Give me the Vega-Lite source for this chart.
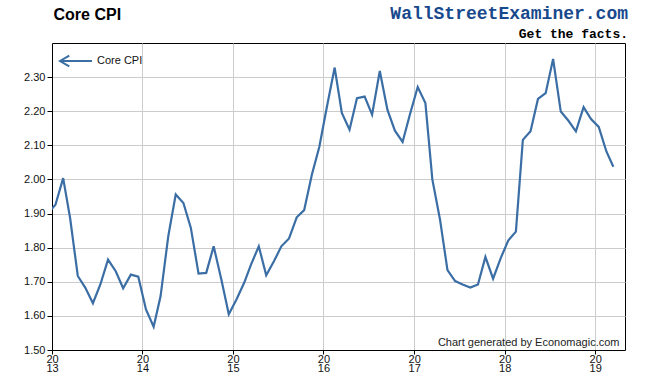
{
  "$schema": "https://vega.github.io/schema/vega-lite/v6.json",
  "width": 573,
  "height": 307,
  "autosize": {"type": "none"},
  "padding": {"left": 52, "top": 43, "right": 25, "bottom": 35},
  "background": "#ffffff",
  "title": {
    "text": "WallStreetExaminer.com",
    "subtitle": "Get the facts.",
    "anchor": "end",
    "orient": "top",
    "offset": -34.5,
    "dx": 3,
    "font": "Liberation Mono",
    "fontSize": 18,
    "fontWeight": "bold",
    "color": "#17498c",
    "subtitleFont": "Liberation Mono",
    "subtitleFontSize": 13,
    "subtitleFontWeight": "bold",
    "subtitleColor": "#000000",
    "subtitlePadding": 4.5
  },
  "data": {
    "values": [
      {"date": "2012-12-15", "value": 1.900, "series": "Core CPI"},
      {"date": "2013-01-15", "value": 1.926, "series": "Core CPI"},
      {"date": "2013-02-15", "value": 2.004, "series": "Core CPI"},
      {"date": "2013-03-15", "value": 1.887, "series": "Core CPI"},
      {"date": "2013-04-15", "value": 1.717, "series": "Core CPI"},
      {"date": "2013-05-15", "value": 1.683, "series": "Core CPI"},
      {"date": "2013-06-15", "value": 1.637, "series": "Core CPI"},
      {"date": "2013-07-15", "value": 1.692, "series": "Core CPI"},
      {"date": "2013-08-15", "value": 1.765, "series": "Core CPI"},
      {"date": "2013-09-15", "value": 1.731, "series": "Core CPI"},
      {"date": "2013-10-15", "value": 1.681, "series": "Core CPI"},
      {"date": "2013-11-15", "value": 1.721, "series": "Core CPI"},
      {"date": "2013-12-15", "value": 1.715, "series": "Core CPI"},
      {"date": "2014-01-15", "value": 1.619, "series": "Core CPI"},
      {"date": "2014-02-15", "value": 1.568, "series": "Core CPI"},
      {"date": "2014-03-15", "value": 1.658, "series": "Core CPI"},
      {"date": "2014-04-15", "value": 1.834, "series": "Core CPI"},
      {"date": "2014-05-15", "value": 1.956, "series": "Core CPI"},
      {"date": "2014-06-15", "value": 1.931, "series": "Core CPI"},
      {"date": "2014-07-15", "value": 1.858, "series": "Core CPI"},
      {"date": "2014-08-15", "value": 1.724, "series": "Core CPI"},
      {"date": "2014-09-15", "value": 1.726, "series": "Core CPI"},
      {"date": "2014-10-15", "value": 1.804, "series": "Core CPI"},
      {"date": "2014-11-15", "value": 1.707, "series": "Core CPI"},
      {"date": "2014-12-15", "value": 1.605, "series": "Core CPI"},
      {"date": "2015-01-15", "value": 1.648, "series": "Core CPI"},
      {"date": "2015-02-15", "value": 1.697, "series": "Core CPI"},
      {"date": "2015-03-15", "value": 1.751, "series": "Core CPI"},
      {"date": "2015-04-15", "value": 1.804, "series": "Core CPI"},
      {"date": "2015-05-15", "value": 1.719, "series": "Core CPI"},
      {"date": "2015-06-15", "value": 1.760, "series": "Core CPI"},
      {"date": "2015-07-15", "value": 1.804, "series": "Core CPI"},
      {"date": "2015-08-15", "value": 1.827, "series": "Core CPI"},
      {"date": "2015-09-15", "value": 1.889, "series": "Core CPI"},
      {"date": "2015-10-15", "value": 1.910, "series": "Core CPI"},
      {"date": "2015-11-15", "value": 2.014, "series": "Core CPI"},
      {"date": "2015-12-15", "value": 2.095, "series": "Core CPI"},
      {"date": "2016-01-15", "value": 2.214, "series": "Core CPI"},
      {"date": "2016-02-15", "value": 2.328, "series": "Core CPI"},
      {"date": "2016-03-15", "value": 2.195, "series": "Core CPI"},
      {"date": "2016-04-15", "value": 2.146, "series": "Core CPI"},
      {"date": "2016-05-15", "value": 2.238, "series": "Core CPI"},
      {"date": "2016-06-15", "value": 2.243, "series": "Core CPI"},
      {"date": "2016-07-15", "value": 2.190, "series": "Core CPI"},
      {"date": "2016-08-15", "value": 2.318, "series": "Core CPI"},
      {"date": "2016-09-15", "value": 2.204, "series": "Core CPI"},
      {"date": "2016-10-15", "value": 2.143, "series": "Core CPI"},
      {"date": "2016-11-15", "value": 2.110, "series": "Core CPI"},
      {"date": "2016-12-15", "value": 2.192, "series": "Core CPI"},
      {"date": "2017-01-15", "value": 2.271, "series": "Core CPI"},
      {"date": "2017-02-15", "value": 2.224, "series": "Core CPI"},
      {"date": "2017-03-15", "value": 2.000, "series": "Core CPI"},
      {"date": "2017-04-15", "value": 1.882, "series": "Core CPI"},
      {"date": "2017-05-15", "value": 1.734, "series": "Core CPI"},
      {"date": "2017-06-15", "value": 1.702, "series": "Core CPI"},
      {"date": "2017-07-15", "value": 1.692, "series": "Core CPI"},
      {"date": "2017-08-15", "value": 1.683, "series": "Core CPI"},
      {"date": "2017-09-15", "value": 1.692, "series": "Core CPI"},
      {"date": "2017-10-15", "value": 1.773, "series": "Core CPI"},
      {"date": "2017-11-15", "value": 1.709, "series": "Core CPI"},
      {"date": "2017-12-15", "value": 1.768, "series": "Core CPI"},
      {"date": "2018-01-15", "value": 1.821, "series": "Core CPI"},
      {"date": "2018-02-15", "value": 1.847, "series": "Core CPI"},
      {"date": "2018-03-15", "value": 2.116, "series": "Core CPI"},
      {"date": "2018-04-15", "value": 2.141, "series": "Core CPI"},
      {"date": "2018-05-15", "value": 2.236, "series": "Core CPI"},
      {"date": "2018-06-15", "value": 2.253, "series": "Core CPI"},
      {"date": "2018-07-15", "value": 2.353, "series": "Core CPI"},
      {"date": "2018-08-15", "value": 2.199, "series": "Core CPI"},
      {"date": "2018-09-15", "value": 2.172, "series": "Core CPI"},
      {"date": "2018-10-15", "value": 2.141, "series": "Core CPI"},
      {"date": "2018-11-15", "value": 2.212, "series": "Core CPI"},
      {"date": "2018-12-15", "value": 2.177, "series": "Core CPI"},
      {"date": "2019-01-15", "value": 2.154, "series": "Core CPI"},
      {"date": "2019-02-15", "value": 2.082, "series": "Core CPI"},
      {"date": "2019-03-15", "value": 2.037, "series": "Core CPI"}
    ]
  },
  "mark": {"type": "line", "clip": true, "strokeWidth": 2.2, "interpolate": "linear"},
  "encoding": {
    "x": {
      "field": "date",
      "type": "temporal",
      "scale": {
        "type": "utc",
        "domain": [
          {"year": 2013, "month": 1, "date": 1, "utc": true},
          {"year": 2019, "month": 5, "date": 1, "utc": true}
        ],
        "nice": false
      },
      "axis": {
        "title": "Chart generated by Economagic.com",
        "titleX": 567,
        "titleY": -5,
        "titleAlign": "right",
        "titleAnchor": null,
        "titleBaseline": "alphabetic",
        "titleFont": "Liberation Sans",
        "titleFontSize": 11,
        "titleFontWeight": "normal",
        "titleColor": "#222222",
        "values": [
          {"year": 2013, "month": 1, "date": 1, "utc": true},
          {"year": 2014, "month": 1, "date": 1, "utc": true},
          {"year": 2015, "month": 1, "date": 1, "utc": true},
          {"year": 2016, "month": 1, "date": 1, "utc": true},
          {"year": 2017, "month": 1, "date": 1, "utc": true},
          {"year": 2018, "month": 1, "date": 1, "utc": true},
          {"year": 2019, "month": 1, "date": 1, "utc": true}
        ],
        "labelExpr": "[slice(utcFormat(datum.value, '%Y'), 0, 2), slice(utcFormat(datum.value, '%Y'), 2)]",
        "labelFont": "Liberation Sans",
        "labelFontSize": 11,
        "labelColor": "#111111",
        "labelLineHeight": 9.5,
        "labelPadding": -1,
        "labelOverlap": false,
        "labelFlush": false,
        "labelBound": false,
        "tickSize": 4,
        "tickColor": "#000000",
        "domainColor": "#000000",
        "grid": true,
        "gridColor": "#cccccc",
        "gridWidth": 1
      }
    },
    "y": {
      "field": "value",
      "type": "quantitative",
      "scale": {"domain": [1.5, 2.4], "nice": false, "zero": false},
      "axis": {
        "title": "Core CPI",
        "titleAngle": 0,
        "titleX": 1,
        "titleY": -24,
        "titleAlign": "left",
        "titleBaseline": "alphabetic",
        "titleFont": "Liberation Sans",
        "titleFontSize": 16,
        "titleFontWeight": "bold",
        "titleColor": "#000000",
        "values": [1.5, 1.6, 1.7, 1.8, 1.9, 2.0, 2.1, 2.2, 2.3],
        "format": ".2f",
        "labelFont": "Liberation Sans",
        "labelFontSize": 11,
        "labelColor": "#111111",
        "labelPadding": 2,
        "tickSize": 5,
        "tickColor": "#000000",
        "domainColor": "#000000",
        "grid": true,
        "gridColor": "#cccccc",
        "gridWidth": 1
      }
    },
    "color": {
      "field": "series",
      "type": "nominal",
      "scale": {"range": ["#3a6ea5"]},
      "legend": {
        "title": null,
        "orient": "none",
        "legendX": 7,
        "legendY": 1,
        "symbolType": "M-1,0L1,0M-0.42,-0.34L-1,0L-0.42,0.34",
        "symbolSize": 1024,
        "symbolStrokeWidth": 2,
        "symbolFillColor": "transparent",
        "symbolStrokeColor": "#3a6ea5",
        "labelFont": "Liberation Sans",
        "labelFontSize": 11,
        "labelColor": "#111111",
        "labelOffset": 4
      }
    }
  },
  "config": {
    "view": {"stroke": "#000000", "strokeWidth": 1}
  }
}
